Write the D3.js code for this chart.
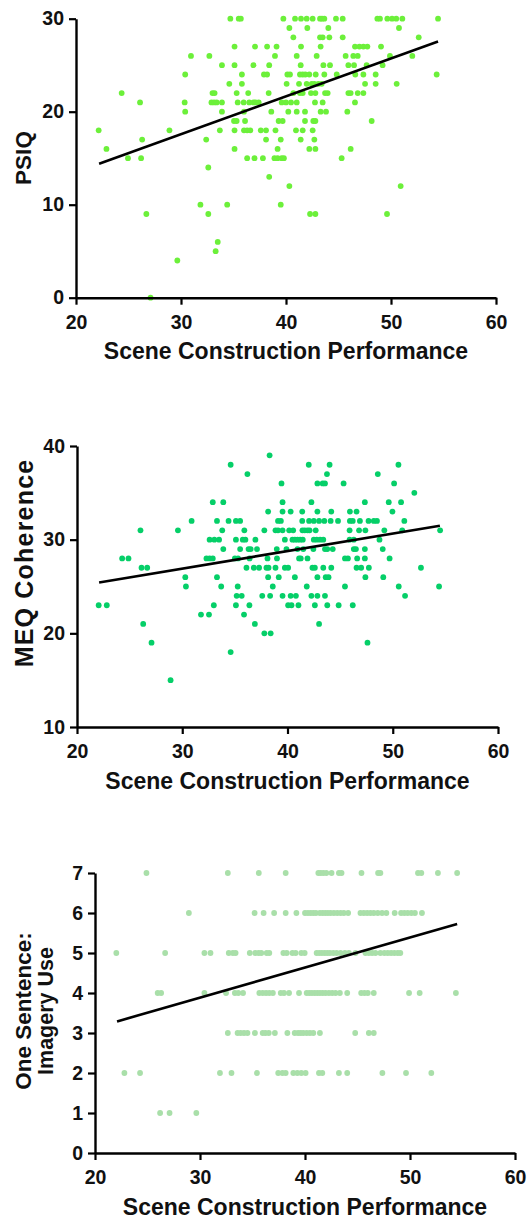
<!DOCTYPE html>
<html><head><meta charset="utf-8">
<script src="https://cdn.jsdelivr.net/npm/d3@7"></script>
<style>body{margin:0;background:#fff}svg{display:block}text{font-family:"Liberation Sans",Arial,sans-serif;font-weight:bold}</style>
</head><body>
<script>
// ---- data ----
const xTicks = [20, 30, 40, 50, 60];
const psiqTicks = [0, 10, 20, 30];
const meqTicks = [10, 20, 30, 40];
const imageryTicks = [0, 1, 2, 3, 4, 5, 6, 7];
const xTitle = "Scene Construction Performance";

const psiqPoints = [
[22.16,18],[22.9,16],[24.35,22],[24.95,15],[26.1,21],[26.3,17],[26.2,15],[26.7,9],[27.1,0],[28.9,18],[29.65,4],
[30.4,24],[30.95,26],[30.35,21],[30.4,20],[31.85,10],[32.6,9],[32.4,17],[32.6,14],[32.7,26],[33.0,22],[33.2,22],
[32.9,21],[33.15,21],[33.4,21],[33.9,21],[33.9,20],[33.7,18],[33.5,6],[33.3,5],[34.4,10],[33.9,25],[34.7,30],
[35.5,30],[35.7,30],[35.1,27],[35.1,25],[34.6,23],[35.3,22],[35.4,21],[35.8,24],[35.8,23],[35.97,21],[35.05,19],
[35.3,19],[35.1,18],[35.1,16],[36.0,20],[36.1,19],[36.0,18],[36.3,18],[36.6,18],[36.4,22],[36.5,21],[36.9,21],
[37.1,21],[37.4,21],[36.3,15],[37.0,15],[36.9,25],[37.05,27],[37.6,18],[38.1,18],[37.8,15],[38.1,17],[38.2,27],
[37.9,24],[38.2,24],[38.35,22],[38.4,25],[38.4,13],[38.6,20],[38.95,26],[39.1,27],[39.0,18],[39.2,16],[38.9,15],
[39.2,15],[39.3,19],
[39.75,30],[40.86,30],[41.43,30],[41.97,30],[42.54,30],[43.24,30],[43.43,30],[43.65,30],[44.76,30],[45.4,30],
[48.7,30],[48.95,30],[49.65,30],[50.1,30],[50.5,30],[51.08,30],[54.48,30],
[40.32,29],[42.03,29],[44.03,29],[50.76,29],
[40.7,28],[43.24,28],[43.49,28],[44.13,28],[45.4,28],[52.64,28],
[41.43,27],[43.3,27],[46.57,27],[46.99,27],[47.37,27],[47.75,27],[49.05,27],
[41.02,26],[42.92,26],[45.68,26],[46.41,26],[46.83,26],[49.9,26],[52.03,26],
[41.4,25],[43.56,25],[44.19,25],[45.94,25],[46.48,25],[47.68,25],[49.2,25],
[40.13,24],[40.38,24],[41.33,24],[41.59,24],[41.84,24],[42.22,24],[42.83,24],[43.65,24],[44.83,24],[46.6,24],[47.37,24],[48.54,24],[54.35,24],
[40.06,23],[41.24,23],[41.97,23],[42.45,23],[42.7,23],[43.08,23],[43.4,23],[47.53,23],[48.54,23],[50.54,23],
[40.7,22],[41.33,22],[41.59,22],[42.38,22],[42.8,22],[43.72,22],[43.97,22],[45.94,22],[46.16,22],[46.83,22],[47.37,22],
[39.59,21],[40.0,21],[40.48,21],[41.02,21],[42.76,21],[43.49,21],[46.57,21],
[40.22,20],[41.02,20],[41.81,20],[43.3,20],[43.81,20],[45.84,20],
[39.68,19],[41.81,19],[42.6,19],[42.8,19],[48.16,19],
[40.95,18],[41.59,18],[42.54,18],
[39.5,17],[41.4,17],[42.7,17],
[42.22,16],[42.8,16],[46.16,16],
[39.59,15],[39.8,15],[45.3,15],
[40.32,12],[50.92,12],
[39.5,10],
[42.29,9],[42.8,9],[49.62,9]
];
const psiqFit = [[22.2,14.4],[54.48,27.55]];

const meqPoints = [
[22.06,23],[22.83,23],[24.29,28],[24.89,28],[26.03,31],[26.13,27],[26.67,27],[26.29,21],[27.08,19],[28.89,15],
[29.59,31],[30.29,26],[30.35,25],[30.89,32],[31.78,22],[32.54,22],[32.3,28],[32.6,28],[32.9,28],[32.6,30],
[33.05,30],[33.5,30],[32.9,34],[33.3,32],[33.3,26],[33.0,23],[33.7,25],[33.8,31],[33.9,29],[33.9,34],[34.4,32],
[34.6,38],[34.6,18],[35.1,32],[35.5,32],[35.1,30],[35.75,30],[36.0,30],[36.95,30],[35.9,31],[37.8,31],[38.86,31],
[39.1,31],[35.5,29],[36.3,29],[36.5,29],[37.1,29],[38.98,29],[35.0,28],[35.3,28],[36.4,28],[38.1,28],[39.0,28],
[36.1,27],[36.8,27],[37.3,27],[38.0,27],[38.2,27],[38.86,27],[38.16,26],[39.17,26],[35.27,25],[38.6,25],[35.17,24],
[35.65,24],[37.6,24],[38.35,24],[35.1,23],[36.38,23],[35.87,22],[36.9,21],[37.8,20],[38.4,20],[38.3,39],[36.19,37],
[38.16,33],[39.1,32],
[42.02,38],[44.0,38],[50.54,38],
[43.75,37],[48.58,37],
[39.43,36],[42.84,36],[43.34,36],[43.56,36],[45.33,36],[50.13,36],
[52.05,35],
[39.53,34],[42.27,34],[47.35,34],[49.62,34],[50.79,34],
[39.53,33],[40.3,33],[41.4,33],[42.84,33],[44.16,33],[45.93,33],[46.56,33],[49.97,33],
[39.37,32],[41.4,32],[42.05,32],[42.5,32],[43.0,32],[43.5,32],[44.1,32],[44.8,32],[45.93,32],[46.2,32],[46.88,32],[47.7,32],[48.2,32],[48.5,32],[51.1,32],
[39.53,31],[40.16,31],[40.54,31],[41.42,31],[41.64,31],[41.9,31],[42.1,31],[42.68,31],[45.9,31],[46.8,31],[47.4,31],[49.2,31],[50.9,31],[54.5,31],
[39.75,30],[40.47,30],[40.7,30],[40.95,30],[41.2,30],[41.45,30],[42.5,30],[42.78,30],[43.1,30],[43.4,30],[45.9,30],[46.3,30],[48.74,30],
[39.9,29],[40.95,29],[41.5,29],[42.46,29],[43.56,29],[43.78,29],[44.3,29],[46.3,29],[46.5,29],[47.35,29],[49.05,29],
[41.1,28],[41.26,28],[41.9,28],[45.46,28],[45.74,28],[46.62,28],[47.35,28],[49.7,28],
[39.75,27],[40.06,27],[42.37,27],[42.6,27],[43.4,27],[44.16,27],[46.56,27],[47.0,27],[47.73,27],[52.68,27],
[40.7,26],[42.84,26],[43.63,26],[43.9,26],[47.4,26],[49.1,26],
[41.83,25],[45.46,25],[50.57,25],[54.4,25],
[39.53,24],[40.3,24],[40.8,24],[42.27,24],[42.84,24],[43.56,24],[51.17,24],
[40.06,23],[40.38,23],[41.04,23],[42.6,23],[43.78,23],[44.86,23],[46.2,23],
[43.0,21],
[47.6,19]
];
const meqFit = [[22.1,25.43],[54.48,31.49]];

const imageryPoints = [
[24.9,7],[32.65,7],[35.6,7],
[28.94,6],[35.2,6],[36.06,6],[37.06,6],
[22.03,5],[26.68,5],[30.42,5],[31.0,5],[32.74,5],[33.13,5],[33.39,5],[34.74,5],[35.26,5],[35.58,5],[35.84,5],[36.35,5],[36.6,5],
[25.97,4],[26.3,4],[30.42,4],[32.48,4],[33.32,4],[33.65,4],[34.1,4],[35.65,4],[35.97,4],[36.29,4],[36.6,4],[36.94,4],
[32.65,3],[33.58,3],[33.87,3],[34.19,3],[34.52,3],[35.23,3],[35.97,3],[36.23,3],[36.55,3],[37.13,3],
[22.8,2],[24.29,2],[31.9,2],[33.0,2],[35.42,2],[37.45,2],
[26.2,1],[27.1,1],[29.65,1],
[38.16,7],[41.27,7],[41.49,7],[41.74,7],[42.03,7],[42.53,7],[43.23,7],[43.48,7],[45.38,7],[46.96,7],[47.18,7],[50.76,7],[51.08,7],[52.66,7],[54.49,7],
[38.16,6],[39.18,6],[40.0,6],[40.28,6],[40.54,6],[40.79,6],[41.04,6],[41.42,6],[41.68,6],[41.93,6],[42.18,6],[42.44,6],[42.75,6],[43.07,6],[43.39,6],[43.7,6],[44.11,6],[45.28,6],[45.6,6],[45.92,6],[46.23,6],[46.55,6],[46.93,6],[47.34,6],[47.75,6],[48.54,6],[49.15,6],[49.46,6],[49.78,6],[50.13,6],[50.47,6],[51.14,6],
[37.94,5],[38.26,5],[38.8,5],[39.11,5],[39.65,5],[39.97,5],[41.11,5],[41.36,5],[41.61,5],[41.87,5],[42.12,5],[42.37,5],[42.69,5],[43.01,5],[43.39,5],[43.8,5],[44.18,5],[44.81,5],[45.76,5],[46.08,5],[46.39,5],[46.71,5],[47.18,5],[47.56,5],[47.88,5],[48.2,5],[48.51,5],[48.83,5],[49.08,5],
[37.69,4],[38.0,4],[38.48,4],[39.43,4],[40.16,4],[40.41,4],[40.66,4],[40.92,4],[41.17,4],[41.42,4],[41.68,4],[41.96,4],[42.28,4],[42.59,4],[42.91,4],[43.32,4],[44.02,4],[45.35,4],[45.66,4],[45.98,4],[46.55,4],[49.91,4],[50.92,4],[54.37,4],
[38.32,3],[39.02,3],[39.34,3],[39.59,3],[39.84,3],[40.16,3],[40.47,3],[40.79,3],[41.42,3],[44.78,3],[46.08,3],[46.55,3],
[37.85,2],[38.16,2],[38.89,2],[39.27,2],[39.65,2],[40.06,2],[41.33,2],[41.65,2],[43.23,2],[44.02,2],[47.37,2],[49.62,2],[52.03,2]
];
const imageryFit = [[22.1,3.29],[54.49,5.725]];

// ---- drawing ----
const W = 528, H = 1218;
const svg = d3.select("body").append("svg").attr("width", W).attr("height", H);

const panels = [
  {pts: psiqPoints, fit: psiqFit, yDom:[0,30], yTicks: psiqTicks, color:"#6cf03a",
   x0:76, x1:496, yTop:18.7, yBot:297.7,
   ytitle:[{t:"PSIQ", x:31, y:158, fs:22.5, ls:0}]},
  {pts: meqPoints, fit: meqFit, yDom:[10,40], yTicks: meqTicks, color:"#05cf68",
   x0:77, x1:498, yTop:446, yBot:727,
   ytitle:[{t:"MEQ Coherence", x:33, y:563, fs:25, ls:1.2}]},
  {pts: imageryPoints, fit: imageryFit, yDom:[0,7], yTicks: imageryTicks, color:"#a9dfa9",
   x0:95, x1:515, yTop:873, yBot:1153,
   ytitle:[{t:"One Sentence:", x:31, y:1011, fs:22.5, ls:0},{t:"Imagery Use", x:53, y:1011, fs:21.5, ls:0}]}
];

panels.forEach(p => {
  const x = d3.scaleLinear().domain([20,60]).range([p.x0, p.x1]);
  const y = d3.scaleLinear().domain(p.yDom).range([p.yBot, p.yTop]);
  const g = svg.append("g");

  g.append("g").selectAll("circle").data(p.pts).join("circle")
    .attr("cx", d => x(d[0])).attr("cy", d => y(d[1])).attr("r", 2.9)
    .attr("fill", p.color);

  g.append("line")
    .attr("x1", x(p.fit[0][0])).attr("y1", y(p.fit[0][1]))
    .attr("x2", x(p.fit[1][0])).attr("y2", y(p.fit[1][1]))
    .attr("stroke", "#000").attr("stroke-width", 2.6);

  const xa = g.append("g").attr("transform", `translate(0,${p.yBot})`)
    .call(d3.axisBottom(x).tickValues(xTicks).tickFormat(d3.format("d"))
      .tickSize(7).tickSizeOuter(0).tickPadding(10));
  const ya = g.append("g").attr("transform", `translate(${p.x0},0)`)
    .call(d3.axisLeft(y).tickValues(p.yTicks).tickFormat(d3.format("d"))
      .tickSize(7).tickSizeOuter(0).tickPadding(5));
  [xa, ya].forEach(a => {
    a.select(".domain").attr("stroke", "#000").attr("stroke-width", 2.4);
    a.selectAll(".tick line").attr("stroke", "#000").attr("stroke-width", 2.2);
    a.selectAll("text").attr("fill", "#111").style("font-size", "19.5px")
      .style("font-family", "'Liberation Sans',Arial,sans-serif").style("font-weight", "bold");
  });

  g.append("text").attr("x", (p.x0 + p.x1) / 2).attr("y", p.yBot + 61.5)
    .attr("text-anchor", "middle").style("font-size", "23px").attr("fill", "#111")
    .text(xTitle);

  p.ytitle.forEach(t => {
    g.append("text").attr("transform", `translate(${t.x},${t.y}) rotate(-90)`)
      .attr("text-anchor", "middle").style("font-size", t.fs + "px")
      .style("letter-spacing", t.ls + "px").attr("fill", "#111")
      .text(t.t);
  });
});
</script>
</body></html>
